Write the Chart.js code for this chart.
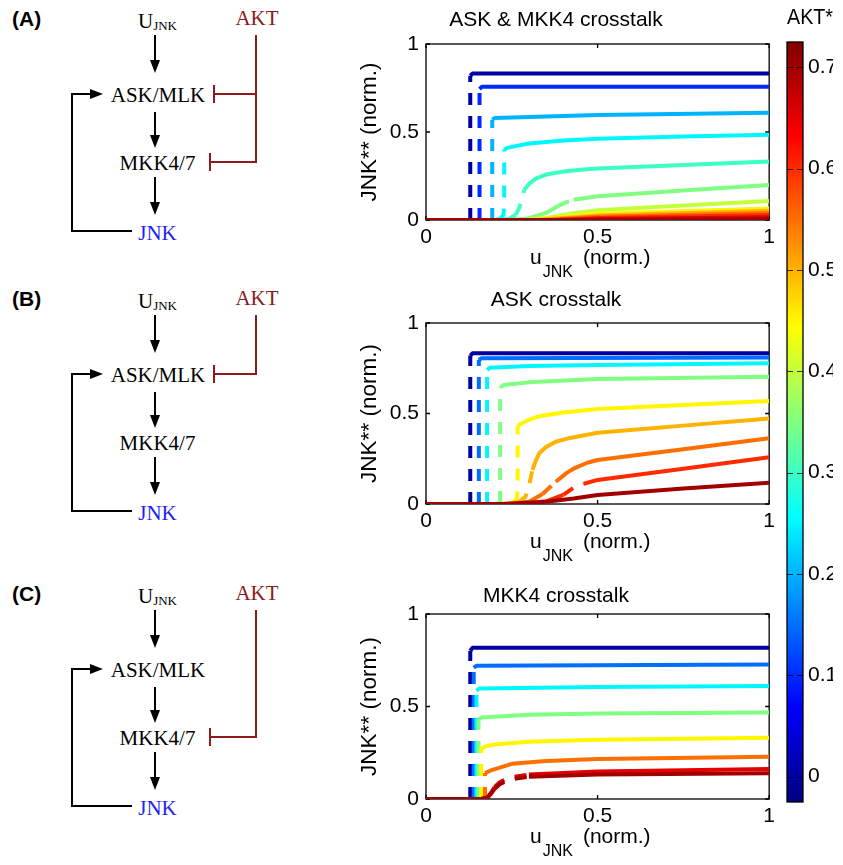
<!DOCTYPE html>
<html>
<head>
<meta charset="utf-8">
<script src="https://cdn.jsdelivr.net/npm/chart.js@4.4.1/dist/chart.umd.min.js"></script>
<style>
  body { margin: 0; background: #fff; }
  #wrap { position: relative; width: 843px; height: 865px; overflow: hidden; }
  .pc { position: absolute; }
  #diag { position: absolute; left: 0; top: 0; }
</style>
</head>
<body>
<div id="wrap">
  <svg id="diag" width="340" height="865"></svg>
  <div class="pc" style="left:340px;top:0;width:440px;height:280px"><canvas id="chartA"></canvas></div>
  <div class="pc" style="left:340px;top:279px;width:440px;height:285px"><canvas id="chartB"></canvas></div>
  <div class="pc" style="left:340px;top:570px;width:440px;height:289px"><canvas id="chartC"></canvas></div>
  <div class="pc" style="left:775px;top:0;width:68px;height:865px"><canvas id="cbar"></canvas></div>
</div>
<script>
const axisTicks = [0, 0.5, 1];
const cbarTicks = [0, 0.1, 0.2, 0.3, 0.4, 0.5, 0.6, 0.7];
const cbarRange = [-0.025, 0.725];
const titles = ['ASK & MKK4 crosstalk', 'ASK crosstalk', 'MKK4 crosstalk'];

// (A) AKT acts on ASK and MKK4 -- [uJNK, JNK**] points per AKT level
const aktA = [0, 0.1, 0.2, 0.25, 0.3, 0.35, 0.4, 0.45, 0.5, 0.55, 0.6, 0.65, 0.7];
const curvesA = [
  [[0,0],[0.129,0],[0.129,0.82],[0.136,0.833],[1,0.833]],
  [[0,0],[0.156,0],[0.156,0.745],[0.163,0.757],[1,0.757]],
  [[0,0],[0.193,0],[0.193,0.57],[0.201,0.58],[0.5,0.596],[1,0.61]],
  [[0,0],[0.2,0],[0.215,0.005],[0.226,0.03],[0.228,0.1],[0.228,0.4],[0.236,0.41],[0.3,0.435],[0.4,0.452],[0.5,0.462],[0.75,0.474],[1,0.485]],
  [[0,0],[0.2,0],[0.24,0.005],[0.262,0.03],[0.272,0.07],[0.28,0.13],[0.286,0.17],[0.3,0.205],[0.32,0.235],[0.35,0.258],[0.4,0.275],[0.45,0.285],[0.5,0.292],[0.75,0.312],[1,0.333]],
  [[0,0],[0.25,0],[0.3,0.01],[0.35,0.04],[0.385,0.08],[0.41,0.102],[0.43,0.115],[0.5,0.135],[0.75,0.167],[1,0.199]],
  [[0,0],[0.28,0],[0.35,0.012],[0.42,0.035],[0.5,0.055],[0.75,0.082],[1,0.108]],
  [[0,0],[0.3,0],[0.4,0.015],[0.5,0.035],[1,0.065]],
  [[0,0],[0.32,0],[0.5,0.025],[1,0.052]],
  [[0,0],[0.35,0],[0.5,0.018],[1,0.04]],
  [[0,0],[0.38,0],[0.5,0.012],[1,0.028]],
  [[0,0],[0.4,0],[0.5,0.006],[1,0.016]],
  [[0,0],[0.45,0],[1,0.006]]
];
// point index ranges drawn dashed (unstable branch)
const dashA = [[1,2],[1,2],[1,2],[2,5],[3,6],[4,6],[-1,-1],[-1,-1],[-1,-1],[-1,-1],[-1,-1],[-1,-1],[-1,-1]];

// (B) AKT acts on ASK only
const aktB = [0, 0.15, 0.25, 0.35, 0.45, 0.5, 0.55, 0.6, 0.7];
const curvesB = [
  [[0,0],[0.129,0],[0.129,0.82],[0.136,0.833],[1,0.833]],
  [[0,0],[0.154,0],[0.154,0.795],[0.161,0.805],[1,0.81]],
  [[0,0],[0.178,0],[0.178,0.74],[0.186,0.753],[0.3,0.762],[0.5,0.768],[1,0.777]],
  [[0,0],[0.2,0],[0.216,0.005],[0.216,0.645],[0.226,0.657],[0.3,0.672],[0.5,0.69],[1,0.703]],
  [[0,0],[0.23,0],[0.255,0.01],[0.265,0.03],[0.267,0.1],[0.267,0.43],[0.276,0.442],[0.3,0.465],[0.33,0.485],[0.4,0.505],[0.5,0.525],[0.75,0.547],[1,0.569]],
  [[0,0],[0.24,0],[0.27,0.01],[0.29,0.04],[0.3,0.1],[0.31,0.188],[0.32,0.24],[0.33,0.28],[0.35,0.315],[0.378,0.344],[0.42,0.365],[0.5,0.394],[0.75,0.433],[1,0.473]],
  [[0,0],[0.25,0],[0.3,0.012],[0.34,0.055],[0.378,0.123],[0.41,0.172],[0.435,0.2],[0.47,0.228],[0.5,0.243],[0.75,0.303],[1,0.363]],
  [[0,0],[0.28,0],[0.35,0.015],[0.4,0.05],[0.43,0.09],[0.46,0.112],[0.5,0.133],[0.75,0.195],[1,0.258]],
  [[0,0],[0.22,0],[0.35,0.012],[0.43,0.03],[0.5,0.05],[0.75,0.085],[1,0.118]]
];
const dashB = [[1,2],[1,2],[1,2],[2,3],[2,5],[2,5],[3,4],[3,5],[-1,-1]];

// (C) AKT acts on MKK4 only
const aktC = [0, 0.15, 0.25, 0.35, 0.45, 0.55, 0.65, 0.7];
const curvesC = [
  [[0,0],[0.129,0],[0.129,0.8],[0.136,0.818],[1,0.818]],
  [[0,0],[0.139,0],[0.139,0.71],[0.147,0.72],[1,0.727]],
  [[0,0],[0.147,0],[0.147,0.585],[0.155,0.597],[0.5,0.605],[1,0.611]],
  [[0,0],[0.153,0],[0.153,0.43],[0.161,0.44],[0.3,0.455],[0.5,0.462],[1,0.467]],
  [[0,0],[0.161,0],[0.161,0.27],[0.17,0.283],[0.2,0.295],[0.3,0.31],[0.5,0.32],[1,0.331]],
  [[0,0],[0.172,0],[0.172,0.14],[0.187,0.153],[0.25,0.19],[0.35,0.205],[0.5,0.216],[1,0.229]],
  [[0,0],[0.16,0],[0.178,0.008],[0.19,0.035],[0.2,0.065],[0.215,0.09],[0.243,0.117],[0.3,0.132],[0.5,0.148],[1,0.162]],
  [[0,0],[0.16,0],[0.18,0.008],[0.19,0.03],[0.2,0.055],[0.215,0.08],[0.243,0.105],[0.3,0.12],[0.5,0.132],[1,0.139]]
];
const dashC = [[1,2],[1,2],[1,2],[1,2],[1,2],[1,2],[4,7],[4,7]];

const SANS = '"Liberation Sans", Arial, sans-serif';
Chart.defaults.font.family = SANS;
Chart.defaults.color = '#000';

function jet(t) {
  const c = v => Math.round(255 * Math.max(0, Math.min(1, v)));
  return `rgb(${c(Math.min(4*t - 1.5, -4*t + 4.5))},${c(Math.min(4*t - 0.5, -4*t + 3.5))},${c(Math.min(4*t + 0.5, -4*t + 2.5))})`;
}
const aktColor = v => jet((v - cbarRange[0]) / (cbarRange[1] - cbarRange[0]));

// box, inward ticks and axis titles, matlab style
const frame = {
  id: 'frame',
  beforeDatasetsDraw(chart) {
    const { ctx, chartArea: a, scales } = chart;
    ctx.save();
    ctx.strokeStyle = '#000';
    ctx.lineWidth = 1.3;
    ctx.strokeRect(a.left, a.top, a.right - a.left, a.bottom - a.top);
    ctx.beginPath();
    axisTicks.forEach(v => {
      const px = scales.x.getPixelForValue(v), py = scales.y.getPixelForValue(v);
      ctx.moveTo(px, a.bottom); ctx.lineTo(px, a.bottom - 4);
      ctx.moveTo(px, a.top); ctx.lineTo(px, a.top + 4);
      ctx.moveTo(a.left, py); ctx.lineTo(a.left + 4, py);
      ctx.moveTo(a.right, py); ctx.lineTo(a.right - 4, py);
    });
    ctx.stroke();
    ctx.restore();
  },
  afterDraw(chart) {
    const { ctx, chartArea: a } = chart;
    ctx.save();
    ctx.fillStyle = '#000';
    ctx.font = '22.5px ' + SANS;
    ctx.translate(30, (a.top + a.bottom) / 2);
    ctx.rotate(-Math.PI / 2);
    ctx.textAlign = 'center';
    ctx.textBaseline = 'middle';
    ctx.fillText('JNK** (norm.)', 0, 0);
    ctx.restore();

    ctx.save();
    ctx.fillStyle = '#000';
    ctx.textAlign = 'left';
    ctx.textBaseline = 'alphabetic';
    const yb = a.bottom + 44;
    let x = a.left + 104;
    ctx.font = '21px ' + SANS;
    ctx.fillText('u', x, yb);
    x += ctx.measureText('u').width + 1;
    ctx.font = '16px ' + SANS;
    ctx.fillText('JNK', x, yb + 13);
    x += ctx.measureText('JNK').width + 10;
    ctx.font = '21px ' + SANS;
    ctx.fillText('(norm.)', x, yb);
    ctx.restore();
  }
};

function makePanel(id, title, titlePad, akt, curves, dashes) {
  const datasets = curves.map((pts, i) => {
    const d = dashes[i];
    return {
      data: pts.map(p => ({ x: p[0], y: p[1] })),
      borderColor: aktColor(akt[i]),
      borderWidth: 4,
      borderCapStyle: 'butt',
      borderJoinStyle: 'round',
      pointRadius: 0,
      tension: 0,
      order: -i,
      segment: {
        borderDash: ctx => (ctx.p0DataIndex >= d[0] && ctx.p1DataIndex <= d[1]) ? [12, 11] : undefined
      }
    };
  });
  return new Chart(document.getElementById(id), {
    type: 'line',
    data: { datasets },
    options: {
      responsive: true,
      maintainAspectRatio: false,
      animation: false,
      layout: { padding: { left: 0, right: 8, top: 0, bottom: 0 } },
      plugins: {
        legend: { display: false },
        tooltip: { enabled: false },
        title: {
          display: true,
          text: title,
          color: '#000',
          font: { size: 21, weight: 'normal', lineHeight: 1.2 },
          padding: titlePad
        }
      },
      scales: {
        x: {
          type: 'linear', min: 0, max: 1,
          afterBuildTicks: s => { s.ticks = axisTicks.map(v => ({ value: v })); },
          afterFit: s => { s.height = 60; },
          grid: { display: false, drawTicks: false },
          border: { display: false },
          ticks: { font: { size: 21 }, padding: 5, maxRotation: 0, callback: v => String(v) }
        },
        y: {
          type: 'linear', min: 0, max: 1,
          afterBuildTicks: s => { s.ticks = axisTicks.map(v => ({ value: v })); },
          afterFit: s => { s.width = 86; },
          grid: { display: false, drawTicks: false },
          border: { display: false },
          ticks: { font: { size: 21 }, padding: 7, callback: v => String(v) }
        }
      }
    },
    plugins: [frame]
  });
}

makePanel('chartA', titles[0], { top: 7.4, bottom: 11.4 }, aktA, curvesA, dashA);
makePanel('chartB', titles[1], { top: 8.4, bottom: 10.4 }, aktB, curvesB, dashB);
makePanel('chartC', titles[2], { top: 13.9, bottom: 4.9 }, aktC, curvesC, dashC);

// colour bar
const cbarPaint = {
  id: 'cbarPaint',
  beforeDraw(chart) {
    const { ctx, chartArea: a } = chart;
    const g = ctx.createLinearGradient(0, a.bottom, 0, a.top);
    for (let i = 0; i <= 64; i++) g.addColorStop(i / 64, jet(i / 64));
    ctx.save();
    ctx.fillStyle = g;
    ctx.fillRect(a.left, a.top, a.right - a.left, a.bottom - a.top);
    ctx.restore();
  },
  afterDraw(chart) {
    const { ctx, chartArea: a, scales } = chart;
    ctx.save();
    ctx.strokeStyle = '#000';
    ctx.lineWidth = 1.3;
    ctx.strokeRect(a.left, a.top, a.right - a.left, a.bottom - a.top);
    ctx.strokeStyle = 'rgba(0,0,0,0.75)';
    ctx.lineWidth = 1;
    ctx.beginPath();
    cbarTicks.forEach(v => {
      const py = Math.round(scales.y.getPixelForValue(v)) + 0.5;
      ctx.moveTo(a.left, py); ctx.lineTo(a.left + 6, py);
      ctx.moveTo(a.right, py); ctx.lineTo(a.right - 6, py);
    });
    ctx.stroke();
    ctx.restore();
  }
};

new Chart(document.getElementById('cbar'), {
  type: 'line',
  data: { datasets: [] },
  options: {
    responsive: true,
    maintainAspectRatio: false,
    animation: false,
    layout: { padding: { left: 12, right: 10, top: 0, bottom: 63 } },
    plugins: {
      legend: { display: false },
      tooltip: { enabled: false },
      title: {
        display: true, text: 'AKT*', color: '#000',
        font: { size: 22, weight: 'normal', lineHeight: 1.2 },
        padding: { top: 5, bottom: 10.6 }
      }
    },
    scales: {
      x: { type: 'linear', display: false },
      y: {
        type: 'linear', position: 'right', min: cbarRange[0], max: cbarRange[1],
        afterBuildTicks: s => { s.ticks = cbarTicks.map(v => ({ value: v })); },
        afterFit: s => { s.width = 30; },
        grid: { display: false, drawTicks: false },
        border: { display: false },
        ticks: { font: { size: 21 }, padding: 5, callback: v => String(v) }
      }
    }
  },
  plugins: [cbarPaint]
});

// network sketches on the left
const AKT_RED = '#8c1a1a', JNK_BLUE = '#1f1fff';
function sketch(oy, tag, toAsk, toMkk) {
  const y = v => v + oy;
  const down = (x, y0, tip) => `<line x1="${x}" y1="${y(y0)}" x2="${x}" y2="${y(tip - 12)}" stroke="#000" stroke-width="2"/>` +
    `<path d="M${x},${y(tip)} L${x - 5},${y(tip - 13)} L${x + 5},${y(tip - 13)} Z" fill="#000"/>`;
  let s = '';
  s += `<text x="12" y="${y(26)}" font-family='${SANS}' font-weight="bold" font-size="21">${tag}</text>`;
  s += `<text x="138" y="${y(28)}" font-family="Liberation Serif" font-size="21">U<tspan font-size="13" dy="2">JNK</tspan></text>`;
  s += `<text x="158" y="${y(102)}" text-anchor="middle" font-family="Liberation Serif" font-size="21">ASK/MLK</text>`;
  s += `<text x="157.5" y="${y(170)}" text-anchor="middle" font-family="Liberation Serif" font-size="21">MKK4/7</text>`;
  s += `<text x="157.5" y="${y(240)}" text-anchor="middle" font-family="Liberation Serif" font-size="21" fill="${JNK_BLUE}">JNK</text>`;
  s += `<text x="257" y="${y(25)}" text-anchor="middle" font-family="Liberation Serif" font-size="21" fill="${AKT_RED}">AKT</text>`;
  s += down(155, 35, 73) + down(155, 112, 148) + down(155, 177, 215);
  s += `<polyline points="132,${y(231)} 72,${y(231)} 72,${y(94)} 92,${y(94)}" fill="none" stroke="#000" stroke-width="2"/>`;
  s += `<path d="M103,${y(94)} L90,${y(89)} L90,${y(99)} Z" fill="#000"/>`;
  s += `<line x1="256" y1="${y(35)}" x2="256" y2="${y(toMkk ? 163 : 95)}" stroke="${AKT_RED}" stroke-width="2"/>`;
  if (toAsk) {
    s += `<line x1="214" y1="${y(94)}" x2="257" y2="${y(94)}" stroke="${AKT_RED}" stroke-width="2"/>`;
    s += `<line x1="214" y1="${y(85)}" x2="214" y2="${y(103)}" stroke="${AKT_RED}" stroke-width="2"/>`;
  }
  if (toMkk) {
    s += `<line x1="210" y1="${y(162)}" x2="257" y2="${y(162)}" stroke="${AKT_RED}" stroke-width="2"/>`;
    s += `<line x1="210" y1="${y(153)}" x2="210" y2="${y(171)}" stroke="${AKT_RED}" stroke-width="2"/>`;
  }
  return s;
}
document.getElementById('diag').innerHTML =
  sketch(0, '(A)', true, true) + sketch(280, '(B)', true, false) + sketch(575, '(C)', false, true);
</script>
</body>
</html>
